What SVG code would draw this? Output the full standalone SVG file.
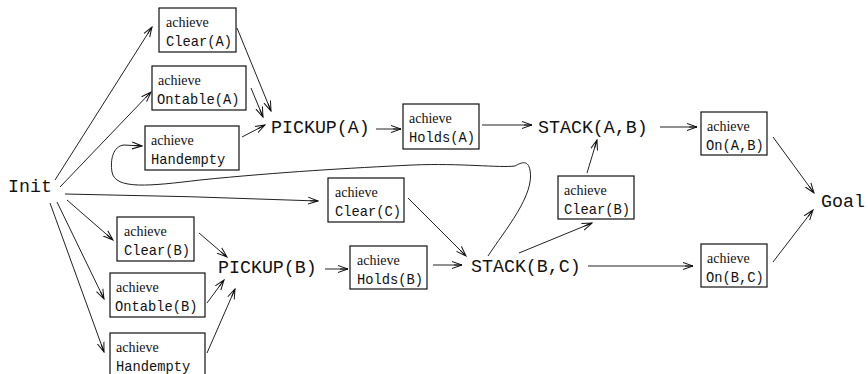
<svg xmlns="http://www.w3.org/2000/svg" width="868" height="374" viewBox="0 0 868 374">
<style>
.bg{fill:#fff}
.box{fill:#fff;stroke:#111;stroke-width:1.2}
.ach{font-family:"Liberation Serif",serif;font-size:14px;fill:#111}
.mono{font-family:"Liberation Mono",monospace;font-size:13.75px;fill:#111}
.big{font-family:"Liberation Mono",monospace;font-size:18.3px;fill:#111}
.c{fill:none;stroke:#222;stroke-width:1;marker-end:url(#ah)}
</style>
<defs>
<marker id="ah" markerWidth="11" markerHeight="9" refX="10" refY="4.5" orient="auto" markerUnits="userSpaceOnUse">
<path d="M0,1 L10,4.5 L0,8 M2,4.5 L10,4.5" fill="none" stroke="#111" stroke-width="1"/>
</marker>
</defs>
<rect class="bg" x="0" y="0" width="868" height="374"/>

<g id="connectors">
<line class="c" x1="55" y1="180" x2="152" y2="27"/>
<line class="c" x1="60" y1="187" x2="151" y2="92"/>
<path class="c" d="M65,194 Q190,196 318,201"/>
<line class="c" x1="67" y1="200" x2="113" y2="240"/>
<line class="c" x1="57" y1="202" x2="104" y2="299"/>
<line class="c" x1="50" y1="203" x2="104" y2="352"/>
<line class="c" x1="237" y1="28" x2="271" y2="111"/>
<line class="c" x1="251" y1="88" x2="263" y2="117"/>
<line class="c" x1="242" y1="137" x2="265" y2="125"/>
<line class="c" x1="199" y1="233" x2="227" y2="257"/>
<line class="c" x1="207" y1="303" x2="224" y2="280"/>
<line class="c" x1="207" y1="353" x2="235" y2="289"/>
<line class="c" x1="376" y1="129" x2="401" y2="129"/>
<line class="c" x1="482" y1="125" x2="532" y2="125"/>
<line class="c" x1="660" y1="127" x2="697" y2="127"/>
<line class="c" x1="587" y1="173" x2="597" y2="140"/>
<line class="c" x1="519" y1="253" x2="592" y2="223"/>
<line class="c" x1="408" y1="198" x2="466" y2="256"/>
<line class="c" x1="325" y1="269" x2="348" y2="269"/>
<line class="c" x1="433" y1="265" x2="462" y2="265"/>
<line class="c" x1="588" y1="266" x2="693" y2="266"/>
<line class="c" x1="773" y1="137" x2="814" y2="193"/>
<line class="c" x1="773" y1="262" x2="813" y2="210"/>
<path class="c" d="M488,256 C505,230 535,195 530,170 C528,160 522,162 515,166 C500,168 460,163 413,165 C350,168 280,172 200,180 C150,186 115,190 112,172 C110,160 113,146 124,145 L142,146"/>
</g>

<g id="init"><text class="big" x="8" y="192">Init</text></g>
<g id="goal"><text class="big" x="821" y="207">Goal</text></g>
<g id="pickupA"><text class="big" x="271" y="133">PICKUP(A)</text></g>
<g id="pickupB"><text class="big" x="218" y="273">PICKUP(B)</text></g>
<g id="stackAB"><text class="big" x="538" y="133">STACK(A,B)</text></g>
<g id="stackBC"><text class="big" x="471" y="272">STACK(B,C)</text></g>

<g id="clearA"><rect class="box" x="159" y="8" width="77" height="44"/><text class="ach" x="166" y="27">achieve</text><text class="mono" x="166" y="46">Clear(A)</text></g>
<g id="ontableA"><rect class="box" x="152" y="66" width="94" height="44"/><text class="ach" x="158" y="85">achieve</text><text class="mono" x="157" y="104">Ontable(A)</text></g>
<g id="handemptyA"><rect class="box" x="145" y="126" width="94" height="44"/><text class="ach" x="151" y="145">achieve</text><text class="mono" x="151" y="164">Handempty</text></g>
<g id="clearB1"><rect class="box" x="117" y="217" width="77" height="44"/><text class="ach" x="124" y="236">achieve</text><text class="mono" x="124" y="255">Clear(B)</text></g>
<g id="ontableB"><rect class="box" x="110" y="273" width="95" height="44"/><text class="ach" x="116" y="292">achieve</text><text class="mono" x="115" y="311">Ontable(B)</text></g>
<g id="handemptyB"><rect class="box" x="110" y="333" width="95" height="46"/><text class="ach" x="116" y="352">achieve</text><text class="mono" x="116" y="371">Handempty</text></g>
<g id="holdsA"><rect class="box" x="403" y="104" width="76" height="45"/><text class="ach" x="409" y="123">achieve</text><text class="mono" x="409" y="142">Holds(A)</text></g>
<g id="clearC"><rect class="box" x="328" y="178" width="76" height="44"/><text class="ach" x="335" y="197">achieve</text><text class="mono" x="335" y="216">Clear(C)</text></g>
<g id="holdsB"><rect class="box" x="350" y="246" width="77" height="43"/><text class="ach" x="357" y="265">achieve</text><text class="mono" x="357" y="284">Holds(B)</text></g>
<g id="clearB2"><rect class="box" x="558" y="176" width="76" height="43"/><text class="ach" x="564" y="195">achieve</text><text class="mono" x="564" y="214">Clear(B)</text></g>
<g id="onAB"><rect class="box" x="701" y="112" width="66" height="43"/><text class="ach" x="707" y="131">achieve</text><text class="mono" x="706" y="150">On(A,B)</text></g>
<g id="onBC"><rect class="box" x="701" y="244" width="66" height="43"/><text class="ach" x="707" y="263">achieve</text><text class="mono" x="706" y="282">On(B,C)</text></g>
</svg>
